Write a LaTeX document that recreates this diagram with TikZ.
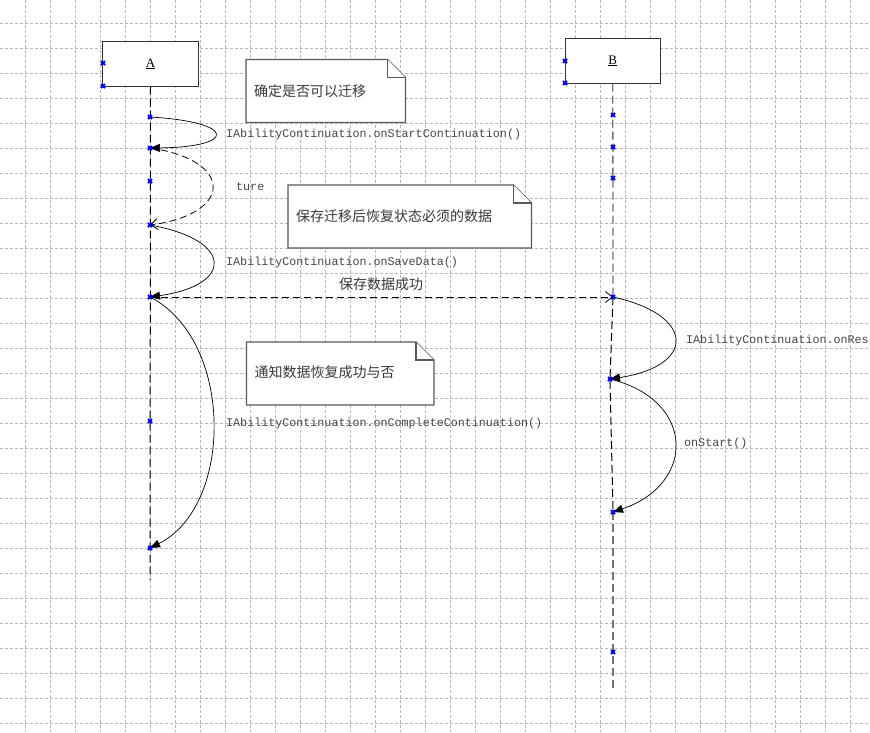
\documentclass[tikz,border=0pt]{standalone}
\usepackage{fontspec}
\setmainfont{Liberation Serif}
\setmonofont{Liberation Mono}
\newfontfamily\cjk{Noto Sans CJK SC}
\usetikzlibrary{arrows.meta}

\tikzset{
  gridline/.style={black!28, dash pattern=on 3pt off 2pt, line width=0.6pt},
  lifeline/.style={dash pattern=on 8pt off 4pt, line width=1pt},
  objbox/.style={draw=black!80, line width=1pt, fill=white, minimum height=44.3pt},
  notebox/.style={draw=black!65, line width=1.3pt, fill=white},
  msg/.style={line width=0.7pt, -{Triangle[length=10pt,width=8pt]}},
  reply/.style={line width=0.8pt, dash pattern=on 7pt off 4pt, -{Straight Barb[length=7pt,width=11pt]}},
  lbl/.style={text=black!72, font=\ttfamily\fontsize{11.7}{14}\selectfont, inner sep=0pt, anchor=west},
  cjklbl/.style={text=black!78, font=\cjk\fontsize{14}{16}\selectfont, inner sep=0pt, anchor=west},
}

% dog-eared note: x1, y1, x2, y2
\newcommand{\notepath}[4]{%
  \draw[notebox] (#1,#2) -- (#3-18,#2) -- (#3,#2+18) -- (#3,#4) -- (#1,#4) -- cycle;
  \draw[notebox] (#3-18,#2) -- (#3-18,#2+18) -- (#3,#2+18);
}

\begin{document}
\begin{tikzpicture}[x=1pt,y=-1pt]
\fill[white] (0,0) rectangle (870,732);
\useasboundingbox (0,0) rectangle (870,732);

% grid
\foreach \x in {25,50,...,850}
  \draw[gridline] (\x,0) -- (\x,732);
\foreach \y in {23,48,...,723}
  \draw[gridline] (0,\y) -- (870,\y);

% objects
\node[objbox, minimum width=95.6pt] (A) at (150.5,63.9) {\fontsize{13}{15}\selectfont\underline{A}};
\node[objbox, minimum width=95pt] (B) at (612.8,60.9) {\fontsize{13}{15}\selectfont\underline{B}};

% points on the lifelines
\coordinate (a1) at (150,117);
\coordinate (a2) at (150,148);
\coordinate (a3) at (150,181);
\coordinate (a4) at (150,225);
\coordinate (a5) at (150,297);
\coordinate (a6) at (150,421);
\coordinate (a7) at (150,548);
\coordinate (aend) at (150,580);
\coordinate (b1) at (613,115);
\coordinate (b2) at (613,147);
\coordinate (b3) at (613,178);
\coordinate (b4) at (613,297);
\coordinate (b5) at (610,379);
\coordinate (b6) at (613,512);
\coordinate (b7) at (613,652);
\coordinate (bend) at (613,688);
\coordinate (ap1) at (103,63);
\coordinate (ap2) at (103,86);
\coordinate (bp1) at (565,61);
\coordinate (bp2) at (565,83);

% lifelines
\draw[lifeline] (A.south) -- (aend);
\draw[lifeline, black!55, line width=1.3pt] (B.south) -- (b4);
\draw[lifeline] (b4) -- (b5) -- (b6);
\draw[lifeline, black!55, line width=1.3pt] (b6) -- (bend);

% notes
\notepath{246}{59.5}{405.5}{122.5}
\node[cjklbl] (n1) at (254,91) {确定是否可以迁移};
\notepath{288}{185}{531.5}{248}
\node[cjklbl] (n2) at (296,216) {保存迁移后恢复状态必须的数据};
\notepath{246.5}{342}{434}{405}
\node[cjklbl] (n3) at (254.5,372) {通知数据恢复成功与否};

% messages
\draw[msg] (a1) .. controls (237,122) and (237,147) .. (a2);
\draw[reply] (a2) .. controls (234,160) and (234,214) .. (a4);
\draw[msg] (a4) .. controls (234,240) and (234,285) .. (a5);
\draw[reply] (a5) -- (b4);
\draw[msg] (a5) .. controls (234,340) and (234,506) .. (a7);
\draw[msg] (b4) .. controls (696,315) and (696,366) .. (b5);
\draw[msg] (b5) .. controls (696,400) and (696,484) .. (b6);

% labels
\node[lbl] (m1) at (226,134) {IAbilityContinuation.onStartContinuation()};
\node[lbl] (m2) at (236,187) {ture};
\node[lbl] (m3) at (226,262) {IAbilityContinuation.onSaveData()};
\node[cjklbl, anchor=center] (m4) at (381,284) {保存数据成功};
\node[lbl] (m5) at (226,423) {IAbilityContinuation.onCompleteContinuation()};
\node[lbl] (m6) at (686,340) {IAbilityContinuation.onRes};
\node[lbl] (m7) at (684,443) {onStart()};

% anchor marks
\foreach \p in {a1,a2,a3,a4,a5,a6,a7,b1,b2,b3,b4,b5,b6,b7,ap1,ap2,bp1,bp2}
  \draw[blue, line width=1.8pt] (\p) +(-2,-2) -- +(2,2) (\p) +(-2,2) -- +(2,-2);
\end{tikzpicture}
\end{document}
